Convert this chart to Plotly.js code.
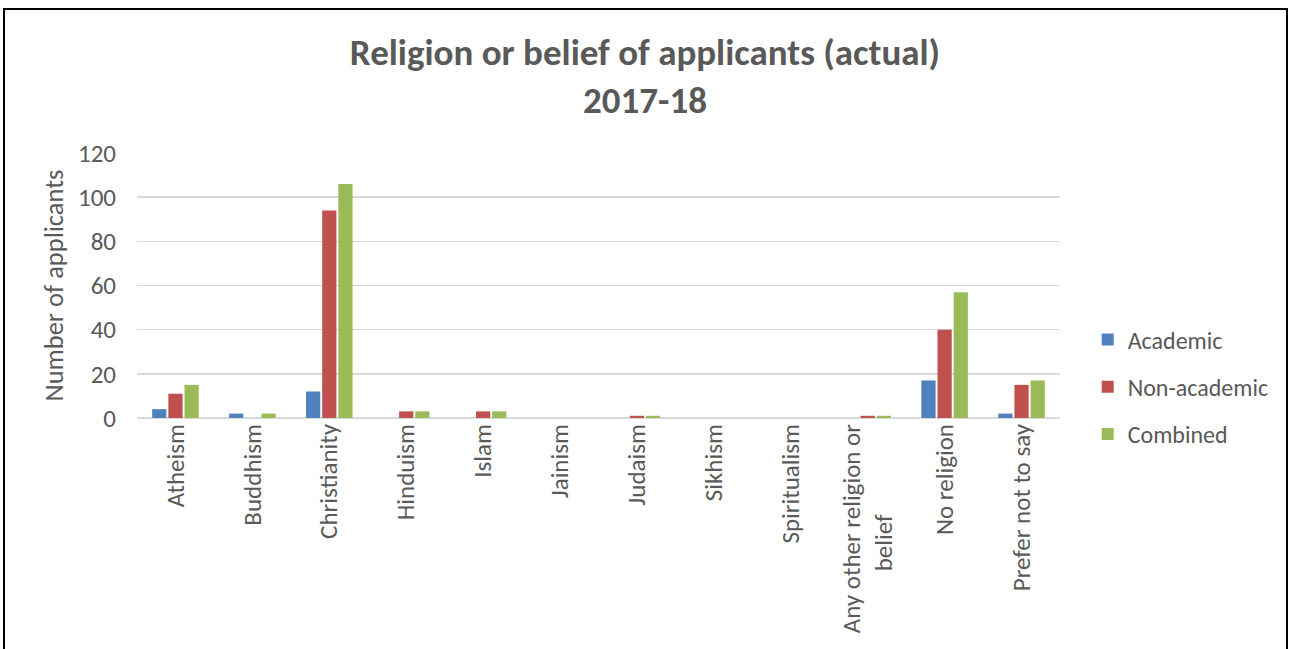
<!DOCTYPE html>
<html>
<head>
<meta charset="utf-8">
<script src="https://cdn.plot.ly/plotly-3.0.1.min.js"></script>
<style>
html,body{margin:0;padding:0;background:#fff;}
#chart{width:1290px;height:649px;position:absolute;left:0;top:0;}
#frame{position:absolute;left:3px;top:8px;width:1285px;height:650px;border:2px solid #000;box-sizing:border-box;pointer-events:none;}
</style>
</head>
<body>
<div id="chart"></div>
<div id="frame"></div>
<script>
const categories = ["Atheism","Buddhism","Christianity","Hinduism","Islam","Jainism","Judaism","Sikhism","Spiritualism","Any other religion or belief","No religion","Prefer not to say"];
const academic    = [4, 2, 12, 0, 0, 0, 0, 0, 0, 0, 17, 2];
const nonAcademic = [11, 0, 94, 3, 3, 0, 1, 0, 0, 1, 40, 15];
const combined    = [15, 2, 106, 3, 3, 0, 1, 0, 0, 1, 57, 17];
const yTicks = [0, 20, 40, 60, 80, 100, 120];

// display labels: wrap long label, centre second line with non-breaking spaces
const tickLabels = categories.map(c => c === "Any other religion or belief"
  ? "Any other religion or<br>belief" + "\u00a0".repeat(16) : c);

const font = "Carlito, 'Liberation Sans', Arial, sans-serif";
const mk = (name, y, color) => ({
  type: 'bar', name: name, x: categories, y: y, legendgroup: name,
  marker: {color: color, line: {width: 0}}
});
const data = [
  mk('Academic', academic, '#4f81bd'),
  mk('Non-academic', nonAcademic, '#c0504d'),
  mk('Combined', combined, '#9bbb59')
];
const layout = {
  width: 1290, height: 649,
  paper_bgcolor: '#fff', plot_bgcolor: '#fff',
  margin: {l: 137, r: 230, t: 153, b: 231},
  font: {family: font, color: '#595959'},
  title: {text: '<b>Religion or belief of applicants (actual)<br>2017-18</b>', x: 0.5, xanchor: 'center', y: 0.9, yanchor: 'top',
          font: {size: 37, color: '#595959', family: font}},
  barmode: 'group', bargap: 0.37, bargroupgap: 0.12,
  xaxis: {type: 'category', tickangle: -90, tickvals: categories, ticktext: tickLabels,
          tickfont: {size: 25, color: '#595959'},
          showgrid: false, showline: false, ticks: '', zeroline: false, automargin: false},
  yaxis: {range: [0, 120], tickvals: yTicks, ticktext: yTicks.map(String), tickfont: {size: 25, color: '#595959'},
          gridcolor: '#d9d9d9', gridwidth: 1.5, zeroline: true, zerolinecolor: '#d9d9d9', zerolinewidth: 1.5,
          showline: false, ticks: '', ticklen: 0, ticklabelstandoff: 20, automargin: false,
          title: {text: 'Number of applicants', font: {size: 26.5, color: '#595959'}, standoff: 6}},
  legend: {x: 1.03, xanchor: 'left', y: 0.117, yanchor: 'middle', font: {size: 24, color: '#595959'},
           tracegroupgap: 13, itemwidth: 30, traceorder: 'grouped'},
  showlegend: true
};
Plotly.newPlot('chart', data, layout, {displayModeBar: false, staticPlot: true});
</script>
</body>
</html>
